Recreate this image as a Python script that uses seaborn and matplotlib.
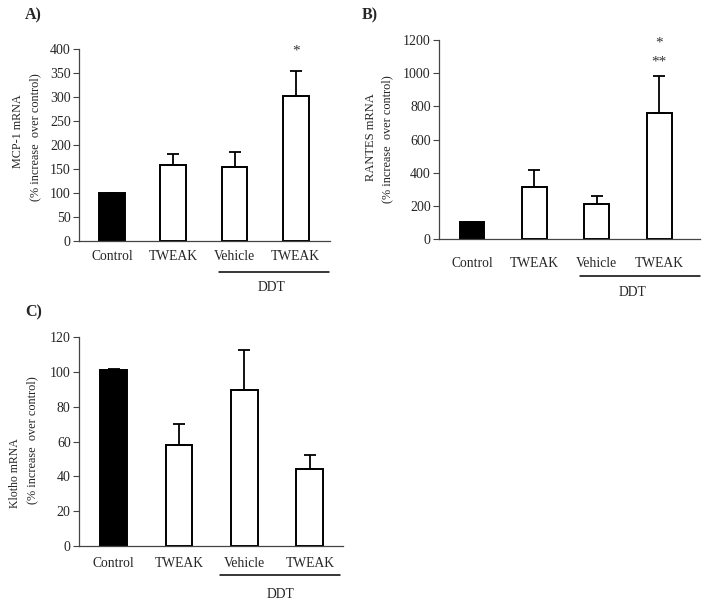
import matplotlib
matplotlib.use("Agg")
import matplotlib.pyplot as plt
import matplotlib.transforms as mtransforms
import seaborn as sns
import pandas as pd
import numpy as np

sns.set_style("white")
plt.rcParams['font.family'] = ['Liberation Serif', 'DejaVu Serif']

# ---- data ----
groups = ["Control", "TWEAK", "Vehicle", "TWEAK DDT"]
tick_labels = ["Control", "TWEAK", "Vehicle", "TWEAK"]
bar_colors = ["#000000", "#ffffff", "#ffffff", "#ffffff"]

mcp1_mean = [100, 158, 155, 302]
mcp1_err = [0, 24, 30, 53]
rantes_mean = [100, 315, 210, 760]
rantes_err = [0, 100, 48, 222]
klotho_mean = [101, 58, 89.5, 44]
klotho_err = [0.5, 12, 23, 8.5]

fig = plt.figure(figsize=(7.08, 6.03), dpi=100)

panels = [
    dict(rect=[0.1116, 0.6003, 0.3545, 0.3184], mean=mcp1_mean, err=mcp1_err,
         ylim=(0, 400), yticks=np.arange(0, 401, 50), xlim=(-0.54, 3.56), width=0.42,
         l1="MCP-1 mRNA", l1fs=8.7, l1pos=(-0.245, 0.57), l2pos=(-0.175, 0.54), pad=6.5,
         ddt=(1.75, 3.54, -0.161, 2.61, -0.24), letter="A)", letpos=(25, 15),
         stars=[("*", 3, 396)]),
    dict(rect=[0.620, 0.6036, 0.369, 0.330], mean=rantes_mean, err=rantes_err,
         ylim=(0, 1200), yticks=np.arange(0, 1201, 200), xlim=(-0.53, 3.66), width=0.40,
         l1="RANTES mRNA", l1fs=9, l1pos=(-0.262, 0.51), l2pos=(-0.199, 0.50), pad=13,
         ddt=(1.73, 3.66, -0.186, 2.57, -0.27), letter="B)", letpos=(362, 15),
         stars=[("*", 3, 1180), ("**", 3, 1065)]),
    dict(rect=[0.1116, 0.0945, 0.373, 0.3466], mean=klotho_mean, err=klotho_err,
         ylim=(0, 120), yticks=np.arange(0, 121, 20), xlim=(-0.53, 3.51), width=0.41,
         l1="Klotho mRNA", l1fs=8.5, l1pos=(-0.242, 0.35), l2pos=(-0.178, 0.507), pad=8,
         ddt=(1.63, 3.47, -0.139, 2.55, -0.234), letter="C)", letpos=(25, 312),
         stars=[]),
]

for p in panels:
    ax = fig.add_axes(p["rect"])
    df = pd.DataFrame({"group": groups, "value": p["mean"]})
    sns.barplot(data=df, x="group", y="value", hue="group", palette=bar_colors,
                order=groups, hue_order=groups, edgecolor="black", linewidth=1.4,
                width=p["width"], legend=False, errorbar=None, ax=ax)
    xs = np.arange(len(groups))
    ax.errorbar(xs, p["mean"], yerr=[np.zeros(len(groups)), p["err"]], fmt="none",
                ecolor="black", elinewidth=1.3, capsize=4.5, capthick=1.3, zorder=1)
    ax.set_ylim(*p["ylim"])
    ax.set_xlim(*p["xlim"])
    ax.set_yticks(p["yticks"])
    ax.set_xticks(xs)
    ax.set_xticklabels(tick_labels, fontsize=9.8)
    ax.set_xticks(xs + 0.5, minor=True)
    ax.tick_params(axis="x", which="major", length=0, pad=p["pad"])
    ax.tick_params(axis="x", which="minor", length=4, width=0.8, color="#444444", direction="out")
    ax.tick_params(axis="y", length=4, width=0.8, color="#444444", direction="out",
                   labelsize=10, pad=2, left=True)
    ax.set_xlabel("")
    ax.set_ylabel("")
    for s in ["top", "right"]:
        ax.spines[s].set_visible(False)
    for s in ["left", "bottom"]:
        ax.spines[s].set_color("#444444")
        ax.spines[s].set_linewidth(0.9)
    ax.text(p["l1pos"][0], p["l1pos"][1], p["l1"], rotation=90, transform=ax.transAxes,
            ha="center", va="center", fontsize=p["l1fs"])
    ax.text(p["l2pos"][0], p["l2pos"][1], "(% increase  over control)", rotation=90,
            transform=ax.transAxes, ha="center", va="center", fontsize=8.8, color="#222222")
    trans = mtransforms.blended_transform_factory(ax.transData, ax.transAxes)
    x0, x1, yl, xt, yt = p["ddt"]
    ax.plot([x0, x1], [yl, yl], color="black", lw=1.1, transform=trans, clip_on=False)
    ax.text(xt, yt, "DDT", transform=trans, ha="center", va="center", fontsize=9.8)
    for s, xi, yv in p["stars"]:
        ax.text(xi, yv, s, ha="center", va="center", fontsize=11, color="#333333")
    fig.text(p["letpos"][0] / 708, 1 - p["letpos"][1] / 603, p["letter"],
             ha="left", va="center", fontsize=11.5, fontweight="bold")

fig.savefig("out.png", dpi=100, facecolor="white")
